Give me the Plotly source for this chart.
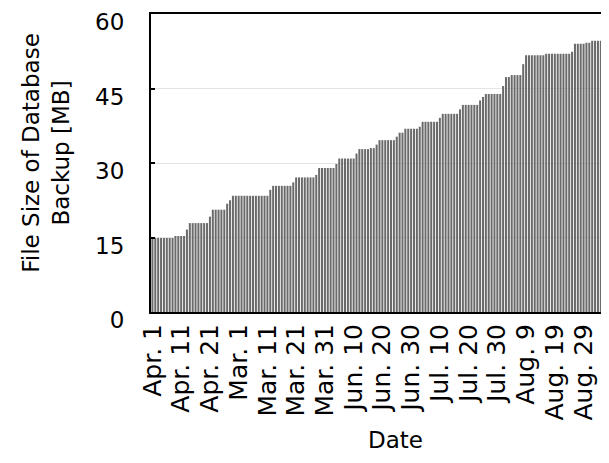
import plotly.graph_objects as go

# Daily backup file size (MB), day 0 = Apr. 1
day_index = list(range(159))
segments = [
    (8, 14.9), (4, 15.3), (1, 16.6), (7, 17.9), (1, 19.2), (5, 20.6),
    (1, 21.8), (1, 22.5), (13, 23.4), (1, 24.6), (7, 25.4), (1, 26.1),
    (7, 27.1), (1, 27.6), (6, 29.0), (1, 29.8), (6, 30.9), (1, 31.9),
    (4, 32.8), (2, 33.0), (1, 33.7), (6, 34.6), (1, 35.3), (2, 36.1),
    (5, 36.9), (1, 37.3), (6, 38.3), (1, 39.1), (6, 39.9), (1, 40.8),
    (6, 41.7), (1, 42.6), (1, 43.3), (6, 43.9), (1, 45.5), (2, 47.3),
    (4, 47.7), (1, 49.9), (7, 51.7), (9, 52.0), (1, 52.4), (4, 54.0),
    (2, 54.2), (6, 54.6),
]
file_size_mb = []
for count, value in segments:
    file_size_mb.extend([value] * count)

tick_days = [0, 10, 20, 30, 40, 50, 60, 70, 80, 90, 100, 110, 120, 130, 140, 150]
tick_labels = ["Apr. 1", "Apr. 11", "Apr. 21", "Mar. 1", "Mar. 11", "Mar. 21",
               "Mar. 31", "Jun. 10", "Jun. 20", "Jun. 30", "Jul. 10", "Jul. 20",
               "Jul. 30", "Aug. 9", "Aug. 19", "Aug. 29"]
y_ticks = [0, 15, 30, 45, 60]
x_title = "Date"
y_title = "File Size of Database<br>Backup [MB]"

FONT = "DejaVu Sans"

fig = go.Figure()
fig.add_trace(go.Bar(
    x=day_index[:len(file_size_mb)],
    y=file_size_mb,
    marker=dict(color="#6a6a6a", line=dict(width=0)),
    showlegend=False,
))

fig.update_layout(
    width=601, height=455,
    margin=dict(l=143, r=1, t=6, b=151),
    paper_bgcolor="white", plot_bgcolor="white",
    bargap=0.3,
    font=dict(family=FONT, size=23, color="black"),
    xaxis=dict(
        range=[-0.5, len(file_size_mb) - 0.5],
        tickmode="array", tickvals=tick_days, ticktext=tick_labels,
        tickangle=-90, ticks="", showgrid=False,
        showline=True, linecolor="black", linewidth=2, mirror=True,
        tickfont=dict(family=FONT, size=25),
        automargin=False,
    ),
    yaxis=dict(
        range=[0, 60],
        tickmode="array", tickvals=y_ticks,
        ticks="inside", ticklen=4, tickwidth=2, tickcolor="black",
        showgrid=True, gridcolor="#e4e4e4", gridwidth=1,
        showline=True, linecolor="black", linewidth=2, mirror=True,
        zeroline=False,
        tickfont=dict(family=FONT, size=23),
        ticklabelstandoff=20,
        ticklabelshift=8,
        ticklabeloverflow="allow",
        automargin=False,
    ),
    annotations=[
        dict(text=x_title, xref="paper", yref="paper", x=0.536, y=-0.43,
             showarrow=False, font=dict(family=FONT, size=23),
             xanchor="center", yanchor="middle"),
        dict(text=y_title, xref="paper", yref="paper", x=-0.23, y=0.534,
             showarrow=False, textangle=-90, font=dict(family=FONT, size=23),
             xanchor="center", yanchor="middle"),
    ],
)

fig.write_html("out.html")
